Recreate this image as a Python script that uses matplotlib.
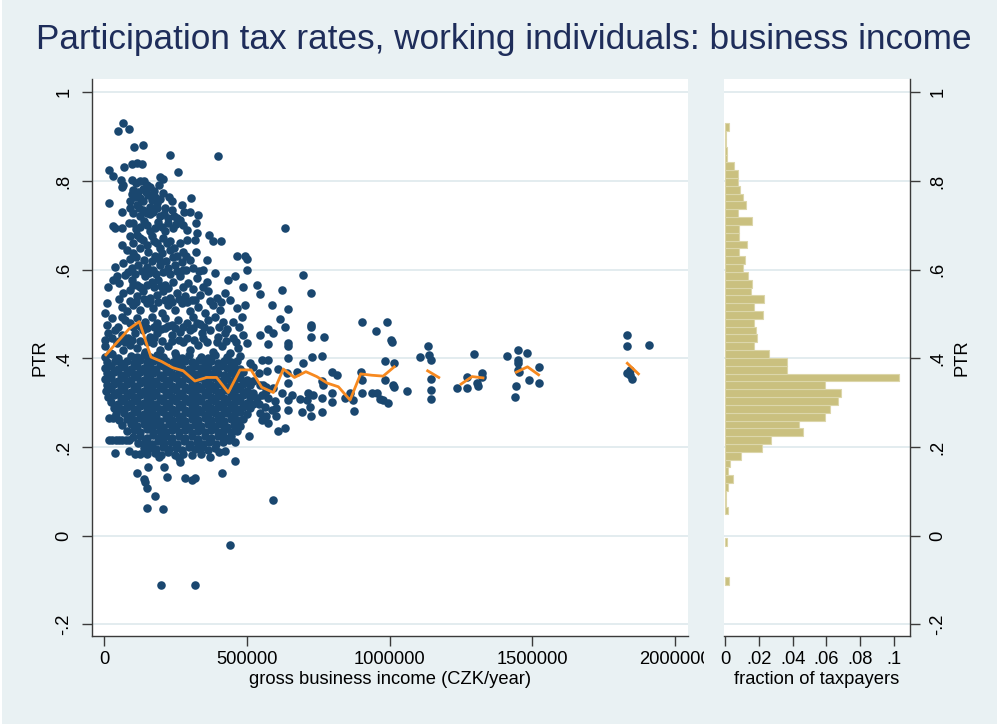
import matplotlib
matplotlib.use("Agg")
import matplotlib.pyplot as plt
import numpy as np
from matplotlib.patches import Rectangle
from matplotlib.transforms import Bbox, TransformedBbox

# observations: (gross business income in thousand CZK, participation tax rate)
upper_cloud = [
    (66, .930), (49, .912), (87, .917), (105, .876), (134, .882),
    (230, .858), (397, .857), (95, .839), (113, .840), (130, .839),
    (70, .831), (16, .824), (29, .812), (195, .810), (204, .804),
    (259, .821), (57, .803), (66, .791), (60, .786), (95, .803),
    (125, .799), (148, .791), (101, .780), (119, .776), (136, .782),
    (160, .786), (107, .765), (125, .761), (154, .769), (177, .765),
    (206, .773), (236, .754), (303, .761), (17, .750), (89, .754),
    (113, .746), (136, .754), (160, .742), (183, .750), (212, .739),
    (236, .735), (271, .746), (280, .731), (300, .731), (329, .724),
    (60, .729), (101, .727), (125, .720), (148, .727), (171, .731),
    (195, .720), (224, .716), (253, .716), (265, .712), (31, .699),
    (37, .694), (101, .705), (125, .697), (148, .701), (177, .694),
    (200, .697), (224, .705), (241, .694), (276, .701), (321, .705),
    (323, .682), (368, .679), (60, .694), (89, .675), (113, .679),
    (136, .667), (165, .675), (183, .660), (206, .671), (230, .664),
    (265, .660), (288, .667), (382, .664), (407, .664), (317, .667),
    (60, .655), (78, .645), (101, .637), (125, .648), (154, .641),
    (177, .630), (200, .637), (230, .645), (253, .630), (271, .618),
    (300, .622), (463, .631), (493, .630), (499, .624), (37, .607),
    (66, .615), (95, .603), (119, .611), (148, .607), (171, .600),
    (195, .611), (224, .603), (247, .611), (276, .600), (312, .603),
    (347, .600), (499, .600), (434, .577), (14, .560), (31, .577),
    (43, .585), (72, .588), (95, .577), (113, .566), (142, .585),
    (165, .573), (189, .577), (212, .566), (241, .573), (265, .585),
    (294, .569), (323, .581), (358, .573), (387, .592), (66, .547),
    (89, .554), (113, .540), (136, .551), (160, .536), (183, .543),
    (206, .551), (230, .536), (253, .547), (282, .540), (306, .532),
    (335, .543), (364, .551), (393, .536), (423, .547), (487, .562),
    (10, .525), (60, .517), (78, .506), (101, .521), (125, .509),
    (148, .524), (171, .513), (200, .502), (224, .521), (247, .509),
    (271, .524), (300, .506), (329, .517), (352, .502), (382, .521),
    (405, .509), (440, .532), (463, .513), (493, .521), (2, .502),
    (8, .476), (60, .494), (72, .487), (89, .479), (113, .491),
    (142, .481), (165, .494), (183, .479), (212, .491), (236, .476),
    (259, .487), (288, .479), (311, .494), (335, .478), (364, .487),
    (387, .494), (417, .481), (452, .483), (481, .494), (2, .442),
    (14, .457), (37, .464), (60, .453), (83, .445), (107, .457),
    (136, .464), (160, .449), (183, .457), (212, .468), (236, .453),
    (265, .460), (288, .445), (311, .468), (341, .457), (370, .464),
    (399, .449), (423, .457), (452, .445), (487, .453), (2, .427),
    (19, .412), (43, .434), (66, .419), (89, .430), (113, .423),
    (142, .415), (171, .434), (195, .419), (224, .427), (247, .412),
    (276, .438), (300, .419), (329, .430), (358, .438), (382, .415),
    (411, .427), (440, .412), (469, .423), (498, .434), (359, .622),
    (456, .586),
    (110, .795), (140, .800), (172, .778), (190, .790), (98, .770),
    (145, .775), (166, .758), (195, .760), (225, .765), (120, .740),
    (90, .738), (135, .735), (160, .725), (185, .738), (210, .725),
    (245, .722), (85, .705), (112, .692), (137, .710), (160, .688),
    (188, .708), (212, .688), (250, .702), (290, .690), (100, .660),
    (125, .672), (150, .655), (172, .665), (195, .650), (218, .660),
    (245, .650), (275, .640), (88, .625), (112, .628), (138, .622),
    (165, .620), (190, .625), (215, .620), (240, .628), (285, .632),
    (320, .640), (82, .595), (107, .590), (130, .598), (155, .592),
    (180, .590), (205, .595), (230, .590), (255, .596), (285, .600),
    (330, .596), (50, .570), (100, .565), (125, .562), (150, .566),
    (175, .560), (198, .563), (222, .558), (275, .560), (310, .556),
    (345, .562), (50, .535), (90, .530), (112, .528), (137, .535),
    (160, .530), (186, .528), (212, .532), (236, .527), (260, .534),
    (290, .528), (318, .532), (370, .530), (410, .528), (25, .490),
    (48, .470), (100, .470), (125, .474), (150, .468), (172, .470),
    (198, .466), (224, .472), (248, .468), (275, .470), (300, .463),
    (323, .480), (350, .470), (400, .470), (430, .466), (470, .470),
    (25, .445), (50, .440), (72, .438), (96, .442), (125, .440),
    (148, .436), (172, .445), (200, .440), (236, .440), (260, .442),
    (315, .442), (345, .445), (395, .438), (425, .440), (460, .437),
]

core_blob = [
    (3, .404), (25, .409), (48, .401), (92, .406), (114, .403), (137, .408),
    (160, .402), (183, .407), (205, .403), (250, .405), (272, .401),
    (296, .408), (340, .404), (362, .401), (386, .407), (431, .402),
    (476, .405),
    (8, .392), (36, .395), (58, .389), (80, .394), (103, .390), (126, .396),
    (148, .391), (171, .393), (194, .389), (216, .395), (239, .392),
    (262, .389), (284, .394), (307, .391), (330, .396), (352, .390),
    (375, .393), (398, .389), (420, .395), (443, .391), (465, .394),
    (510, .390),
    (2, .379), (24, .382), (47, .376), (69, .381), (92, .377), (114, .383),
    (137, .378), (159, .380), (182, .376), (205, .382), (227, .377),
    (250, .381), (272, .379), (295, .376), (318, .382), (340, .378),
    (363, .380), (386, .377), (408, .383), (431, .378), (453, .381),
    (476, .376), (522, .380),
    (9, .366), (35, .369), (58, .363), (80, .368), (103, .364), (125, .370),
    (148, .365), (170, .367), (193, .363), (216, .369), (238, .364),
    (261, .368), (283, .362), (306, .367), (329, .364), (351, .369),
    (374, .365), (397, .368), (419, .363), (442, .367), (464, .364),
    (487, .369), (540, .366),
    (3, .353), (24, .356), (47, .350), (69, .355), (92, .351), (114, .357),
    (137, .352), (159, .354), (182, .350), (205, .356), (227, .351),
    (250, .355), (272, .349), (295, .354), (318, .351), (340, .356),
    (363, .352), (386, .355), (408, .350), (431, .354), (453, .351),
    (476, .356), (498, .352), (521, .349),
    (10, .340), (35, .343), (58, .337), (80, .342), (103, .338), (125, .344),
    (148, .339), (170, .341), (193, .337), (216, .343), (238, .338),
    (261, .342), (283, .336), (306, .341), (329, .338), (351, .343),
    (374, .339), (397, .342), (419, .337), (442, .341), (464, .338),
    (487, .343), (510, .339), (555, .341),
    (5, .327), (24, .330), (47, .324), (69, .329), (92, .325), (114, .331),
    (137, .326), (159, .328), (182, .324), (205, .330), (227, .325),
    (250, .329), (272, .323), (295, .328), (318, .325), (340, .330),
    (363, .326), (386, .329), (408, .324), (431, .328), (453, .325),
    (476, .330), (498, .326), (521, .323), (566, .327),
    (14, .314), (35, .317), (58, .311), (80, .316), (103, .312), (125, .318),
    (148, .313), (170, .315), (193, .311), (216, .317), (238, .312),
    (261, .316), (283, .310), (306, .315), (329, .312), (351, .317),
    (374, .313), (397, .316), (419, .311), (442, .315), (464, .312),
    (487, .317), (510, .313), (533, .310),
    (24, .301), (47, .298), (69, .303), (92, .299), (114, .305), (137, .300),
    (159, .302), (182, .298), (205, .304), (227, .299), (250, .303),
    (272, .297), (295, .302), (318, .299), (340, .304), (363, .300),
    (386, .303), (408, .298), (431, .302), (453, .299), (476, .304),
    (498, .300), (521, .297),
    (33, .288), (58, .285), (80, .290), (103, .286), (125, .292), (148, .287),
    (170, .289), (193, .285), (216, .291), (238, .286), (261, .290),
    (283, .284), (306, .289), (329, .286), (351, .291), (374, .287),
    (397, .290), (419, .285), (442, .289), (464, .286), (487, .291),
    (510, .287),
    (40, .275), (69, .277), (92, .273), (114, .279), (137, .274), (159, .276),
    (182, .272), (205, .278), (227, .273), (250, .277), (272, .271),
    (295, .276), (318, .273), (340, .278), (363, .274), (386, .277),
    (408, .272), (431, .276), (453, .273), (476, .278), (498, .274),
    (50, .262), (80, .264), (103, .260), (125, .266), (148, .261), (170, .263),
    (193, .259), (216, .265), (238, .260), (261, .264), (283, .258),
    (306, .263), (329, .260), (351, .265), (374, .261), (397, .264),
    (419, .259), (442, .263), (464, .260), (487, .264),
    (62, .249), (92, .251), (114, .247), (137, .253), (159, .248), (182, .250),
    (205, .246), (227, .252), (250, .247), (272, .251), (295, .245),
    (318, .250), (340, .247), (363, .252), (386, .248), (408, .251),
    (431, .246), (453, .250), (476, .247),
    (80, .236), (103, .238), (125, .234), (148, .240), (170, .235),
    (193, .237), (216, .233), (238, .239), (261, .234), (283, .238),
    (306, .232), (329, .237), (351, .234), (374, .239), (397, .235),
    (419, .238), (442, .233), (464, .237),
    (101, .223), (125, .225), (148, .221), (170, .227), (193, .222),
    (216, .224), (238, .220), (261, .226), (283, .221), (306, .225),
    (329, .219), (351, .224), (374, .221), (397, .226), (419, .222),
    (442, .225),
    (119, .210), (142, .212), (165, .208), (188, .214), (210, .209),
    (233, .211), (255, .207), (278, .213), (300, .208), (323, .212),
    (346, .206), (368, .211), (391, .208), (414, .212),
    (137, .197), (159, .199), (182, .195), (205, .201), (227, .196),
    (250, .198), (272, .194), (295, .200), (318, .195), (340, .199),
    (363, .193), (386, .197),
    (150, .184), (176, .186), (199, .182), (222, .188), (248, .183),
    (276, .185), (307, .182), (340, .184), (371, .178), (400, .190),
    (423, .191),
]

low_tail = [
    (15, .216), (27, .216), (39, .216), (51, .216), (63, .216), (75, .216),
    (87, .216), (36, .186), (85, .191), (108, .184), (126, .184),
    (152, .154), (114, .142), (137, .127), (143, .122), (149, .108),
    (176, .090), (149, .062), (204, .060), (219, .132), (281, .131),
    (307, .126), (318, .131), (412, .141), (456, .169), (439, -.021),
    (199, -.111), (318, -.111), (207, .156), (260, .175), (266, .167),
    (190, .178), (592, .081), (505, .226), (435, .216), (458, .212),
    (31, .265), (15, .265),
]

right_tail = [
    (633, .695), (697, .588), (723, .547), (621, .554), (545, .545),
    (534, .566), (588, .520), (645, .512), (615, .488), (633, .470),
    (572, .466), (590, .457), (545, .453), (572, .432), (645, .434),
    (645, .427), (723, .476), (723, .470), (723, .448), (771, .449),
    (904, .483), (952, .462), (992, .481), (1005, .442), (1008, .438),
    (645, .400), (726, .404), (761, .405), (697, .390), (551, .397),
    (572, .397), (610, .375), (571, .372), (639, .366), (645, .345),
    (674, .370), (799, .370), (814, .363), (761, .348), (767, .340),
    (899, .370), (902, .351), (984, .393), (1016, .389), (984, .351),
    (1013, .340), (1016, .336), (1059, .327), (1106, .404), (1135, .427),
    (1139, .408), (1143, .396), (1145, .353), (1145, .329), (1145, .309),
    (545, .340), (568, .336), (592, .333), (551, .318), (574, .311),
    (598, .304), (540, .298), (563, .291), (586, .284), (545, .276),
    (568, .269), (551, .262), (574, .254), (607, .237), (633, .242),
    (603, .288), (603, .269), (621, .321), (645, .306), (656, .317),
    (645, .284), (685, .308), (691, .278), (709, .306), (720, .291),
    (715, .321), (732, .318), (723, .269), (761, .310), (761, .278),
    (799, .321), (799, .301), (843, .310), (861, .321), (872, .306),
    (876, .282), (904, .321), (937, .323), (954, .323), (966, .308),
    (978, .306), (993, .299),
    (1235, .333), (1270, .334), (1270, .359), (1297, .410), (1305, .344),
    (1322, .366), (1325, .359), (1311, .338), (1412, .406), (1451, .419),
    (1451, .397), (1451, .389), (1482, .412), (1451, .374), (1455, .370),
    (1525, .381), (1525, .344), (1490, .351), (1443, .338), (1439, .314),
    (1833, .453), (1833, .427), (1831, .367), (1842, .363), (1848, .354),
    (1842, .374), (1909, .431),
]

# mean PTR per income bin (thousand CZK); nan = empty bin, breaks the line
bin_income = [5, 45, 87, 122, 163, 200, 239, 276, 317, 358, 393, 434, 475,
              514, 551, 592, 627, 666, 706, 744, 782, 820, 861, 898, 937,
              977, 1016, 1055, 1133, 1172, 1211, 1250, 1289, 1327, 1366,
              1444, 1483, 1522, 1561, 1833, 1872]
bin_mean_ptr = [.408, .437, .467, .483, .403, .393, .379, .372, .349, .357,
                .357, .323, .374, .374, .335, .323, .376, .357, .370, .359,
                .344, .336, .306, .365, .362, .360, .381, np.nan, .372, .357,
                np.nan, .342, .359, .356, np.nan, .369, .381, .363, np.nan,
                .389, .365]

# PTR histogram: centre of the lowest bin, bin width, fraction per bin
hist_first_centre = -0.1017
hist_width = 0.01764
hist_fraction = [
    .0026, 0, 0, 0, 0, .0010, 0, 0, 0, .0016, .0008, .0005, .0016, .0047,
    .0015, .0031, .0096, .0221, .0272, .0460, .0440, .0594, .0623, .0667,
    .0684, .0592, .1028, .0369, .0367, .0262, .0174, .0189, .0181, .0174,
    .0227, .0172, .0233, .0152, .0162, .0138, .0105, .0118, .0081, .0132,
    .0081, .0085, .0162, .0079, .0122, .0108, .0089, .0079, .0075, .0055,
    .0010, .0010, .0004, .0007, .0024,
]

ptr_ticks = [-.2, 0, .2, .4, .6, .8, 1]
ptr_labels = ["-.2", "0", ".2", ".4", ".6", ".8", "1"]
income_ticks = [0, 500000, 1000000, 1500000, 2000000]
income_labels = ["0", "500000", "1000000", "1500000", "2000000"]
frac_ticks = [0, .02, .04, .06, .08, .1]
frac_labels = ["0", ".02", ".04", ".06", ".08", ".1"]

plt.rcParams["font.family"] = ["Liberation Sans", "DejaVu Sans"]

BG = "#e9f1f3"
GRID = "#e3ecef"
NAVY = "#1a476f"
AXIS = "#3a3a3a"
FS = 13.2

W, H = 999, 726
fig = plt.figure(figsize=(W / 100, H / 100), dpi=100)
fig.patch.set_facecolor("white")
fig.add_artist(Rectangle((2 / W, 2 / H), (W - 4) / W, (H - 2) / H,
                         transform=fig.transFigure, facecolor=BG,
                         edgecolor="none", zorder=-10))

bottom, top = 1 - 636 / H, 1 - 79 / H
ax = fig.add_axes([92 / W, bottom, (688 - 92) / W, top - bottom])
axh = fig.add_axes([724 / W, bottom, (910 - 724) / W, top - bottom])

ylim = (-0.226, 1.030)

# scatter + binned mean line
pts = np.array(upper_cloud + core_blob + low_tail + right_tail)
ax.scatter(pts[:, 0] * 1000, pts[:, 1], s=38, color=NAVY, linewidths=0,
           zorder=3)
ax.plot(np.array(bin_income) * 1000, bin_mean_ptr, color="#f7891f", lw=2.0,
        zorder=4)

ax.set_xlim(-43800, 2045800)
ax.set_ylim(*ylim)
ax.set_yticks(ptr_ticks)
ax.set_yticklabels(ptr_labels, rotation=90, va="center")
ax.set_xticks(income_ticks)
ax.set_xticklabels(income_labels)
ax.set_xlabel("gross business income (CZK/year)", fontsize=FS, labelpad=2)
ax.set_ylabel("PTR", fontsize=FS, labelpad=5)
ax.tick_params(axis="y", direction="out", length=7, width=1, color=AXIS,
               labelsize=FS, pad=7)
ax.tick_params(axis="x", direction="out", length=7, width=1, color=AXIS,
               labelsize=FS, pad=4)

# tick labels are cut at the edge of the left graph region
clip = TransformedBbox(Bbox([[0, 0], [704 / W, 1]]), fig.transFigure)
for lab in ax.get_xticklabels():
    lab.set_clip_box(clip)
    lab.set_clip_on(True)

# histogram of PTR
centres = hist_first_centre + hist_width * np.arange(len(hist_fraction))
frac = np.array(hist_fraction)
keep = frac > 0
axh.barh(centres[keep], frac[keep], height=hist_width, color="#cac07f",
         edgecolor="#dcd6aa", lw=0.8, zorder=3)
axh.set_xlim(-0.0006, 0.1095)
axh.set_ylim(*ylim)
axh.yaxis.tick_right()
axh.yaxis.set_label_position("right")
axh.set_yticks(ptr_ticks)
axh.set_yticklabels(ptr_labels, rotation=90, va="center")
axh.set_xticks(frac_ticks)
axh.set_xticklabels(frac_labels)
axh.set_xlabel("fraction of taxpayers", fontsize=FS, labelpad=2)
axh.set_ylabel("PTR", fontsize=FS, labelpad=5)
axh.tick_params(axis="y", direction="out", length=7, width=1, color=AXIS,
                labelsize=FS, pad=7)
axh.tick_params(axis="x", direction="out", length=7, width=1, color=AXIS,
                labelsize=FS, pad=4)

for a, hidden in ((ax, ("top", "right")), (axh, ("top", "left"))):
    a.set_facecolor("white")
    a.grid(axis="y", color=GRID, lw=1.4, zorder=0)
    a.set_axisbelow(True)
    for side in hidden:
        a.spines[side].set_visible(False)
    for side in ("left", "right", "bottom"):
        a.spines[side].set_color(AXIS)
        a.spines[side].set_linewidth(1.0)

fig.text(504 / W, 1 - 40 / H,
         "Participation tax rates, working individuals: business income",
         ha="center", va="center", fontsize=25.3, color="#1e2d5a")

fig.savefig("out.png", dpi=100, facecolor=fig.get_facecolor())
